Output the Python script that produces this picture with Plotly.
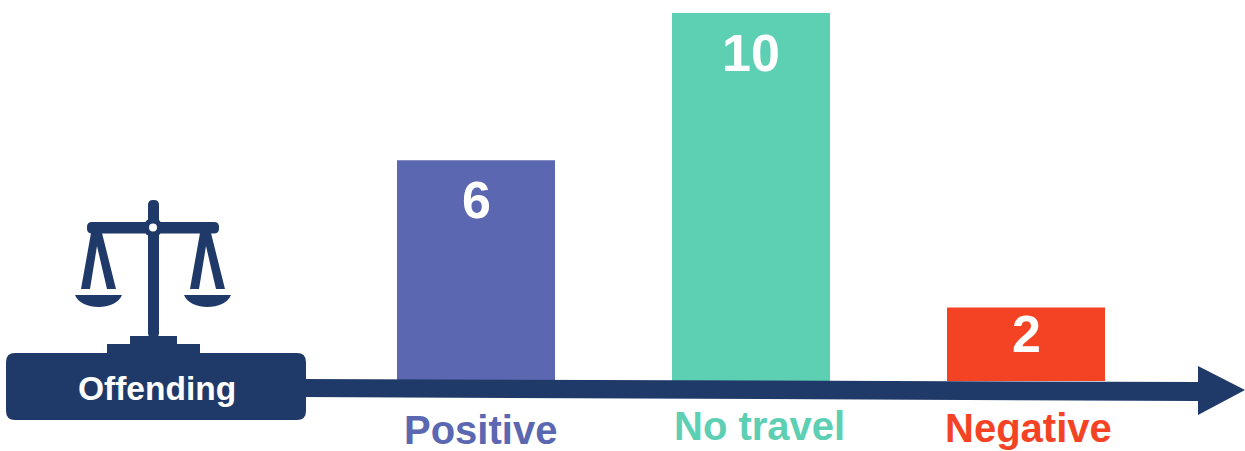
import plotly.graph_objects as go

categories = ["Positive", "No travel", "Negative"]
values = [6, 10, 2]
bar_colors = ["#5B67B1", "#5DCFB3", "#F44324"]
label_offsets = [(4, 430), (8, 426), (2, 428)]  # x shift from bar centre, label centre in page px
value_shifts = [-40, -40, -27]
NAVY = "#1F3A68"
W, H = 1245, 451


def px(x):
    return x / W


def py(y):
    return 1 - y / H


def path(points):
    return "M " + " L ".join(f"{px(x):.5f},{py(y):.5f}" for x, y in points) + " Z"


def rounded(x0, y0, x1, y1, r):
    rx, ry = r / W, r / H
    a, b, c, d = px(x0), py(y0), px(x1), py(y1)
    return (f"M {a+rx:.5f},{b:.5f} L {c-rx:.5f},{b:.5f} Q {c:.5f},{b:.5f} {c:.5f},{b-ry:.5f} "
            f"L {c:.5f},{d+ry:.5f} Q {c:.5f},{d:.5f} {c-rx:.5f},{d:.5f} L {a+rx:.5f},{d:.5f} "
            f"Q {a:.5f},{d:.5f} {a:.5f},{d+ry:.5f} L {a:.5f},{b-ry:.5f} Q {a:.5f},{b:.5f} {a+rx:.5f},{b:.5f} Z")


def pan(x0, x1, top, bottom):
    ctrl = top + (bottom - top) * 4 / 3
    return (f"M {px(x0):.5f},{py(top):.5f} L {px(x1):.5f},{py(top):.5f} "
            f"C {px(x1-6):.5f},{py(ctrl):.5f} {px(x0+6):.5f},{py(ctrl):.5f} {px(x0):.5f},{py(top):.5f} Z")


def legs(dx):
    pts = [(91, 233), (102, 233), (116, 289), (107, 289), (97, 246), (90, 289), (81, 289)]
    return path([(x + dx, y) for x, y in pts])


def circle(cx, cy, r, color):
    return dict(type="circle", xref="paper", yref="paper", x0=px(cx - r), x1=px(cx + r),
                y0=py(cy + r), y1=py(cy - r), fillcolor=color, line_width=0, layer="above")


def solid(p):
    return dict(type="path", xref="paper", yref="paper", path=p, fillcolor=NAVY, line_width=0, layer="above")


fig = go.Figure(go.Bar(
    x=categories, y=values, width=158 / 275,
    marker=dict(color=bar_colors, line_width=0),
    hoverinfo="x+y",
))

shapes = [
    solid(path([(300, 379), (1198, 382), (1198, 366), (1245, 390), (1198, 415), (1198, 401), (300, 397)])),
    solid(rounded(6, 353, 306, 420, 9)),
    solid(path([(107, 354), (107, 344), (130, 344), (130, 336), (177, 336), (177, 344), (200, 344), (200, 354)])),
    solid(rounded(148, 200, 159, 338, 5)),
    solid(rounded(87, 222, 219, 233.5, 5)),
    solid(legs(0)),
    solid(legs(109)),
    solid(pan(75, 122, 295, 307)),
    solid(pan(184, 231, 295, 307)),
    circle(153, 227.5, 9.5, NAVY),
    circle(153, 227.5, 4, "#FFFFFF"),
]

annotations = []
for cat, val, col, (dx, ypx), vs in zip(categories, values, bar_colors, label_offsets, value_shifts):
    annotations.append(dict(x=cat, y=val, xref="x", yref="y", text=str(val), showarrow=False,
                            yanchor="middle", yshift=vs,
                            font=dict(family="Liberation Sans", size=52, color="#FFFFFF", weight="bold")))
    annotations.append(dict(x=cat, y=py(ypx), xref="x", yref="paper", text=cat, showarrow=False,
                            xshift=dx, yanchor="middle",
                            font=dict(family="Liberation Sans", size=40, color=col, weight="bold")))
annotations.append(dict(x=px(156.5), y=py(388), xref="paper", yref="paper", text="Offending", showarrow=False,
                        xanchor="center", yanchor="middle",
                        font=dict(family="Liberation Sans", size=33.5, color="#FFFFFF", weight="bold")))

fig.update_layout(
    width=W, height=H, margin=dict(l=0, r=0, t=0, b=0),
    paper_bgcolor="#FFFFFF", plot_bgcolor="#FFFFFF", showlegend=False,
    shapes=shapes, annotations=annotations,
    xaxis=dict(type="category", categoryorder="array", categoryarray=categories,
               range=[-476 / 275, (1245 - 476) / 275], visible=False, fixedrange=True),
    yaxis=dict(range=[-(451 - 381) / 36.8, 381 / 36.8], visible=False, fixedrange=True),
)

fig.write_html("out.html", config=dict(displayModeBar=False),
               post_script="document.body.style.margin='0';document.documentElement.style.overflow='hidden';")
